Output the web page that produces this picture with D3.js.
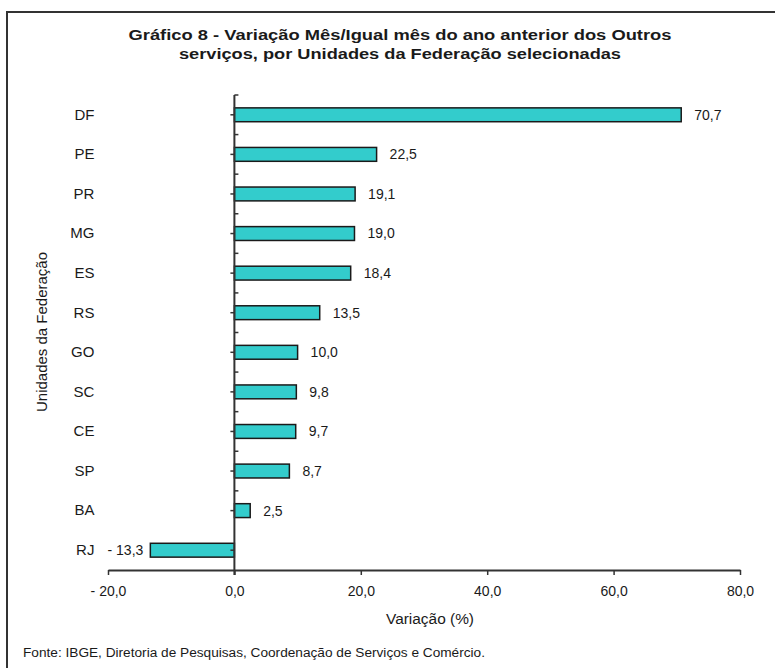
<!DOCTYPE html>
<html>
<head>
<meta charset="utf-8">
<script src="https://cdn.jsdelivr.net/npm/d3@7"></script>
<style>
  body { margin: 0; background: #fff; }
  svg text { font-family: "Liberation Sans", Arial, sans-serif; fill: #1a1a1a; }
</style>
</head>
<body>
<div id="chart"></div>
<script>
var ufs = ["DF", "PE", "PR", "MG", "ES", "RS", "GO", "SC", "CE", "SP", "BA", "RJ"];
var variacao = [70.7, 22.5, 19.1, 19.0, 18.4, 13.5, 10.0, 9.8, 9.7, 8.7, 2.5, -13.3];
var xTicks = [-20, 0, 20, 40, 60, 80];
var titleLines = ["Gráfico 8 - Variação Mês/Igual mês do ano anterior dos Outros",
                  "serviços, por Unidades da Federação selecionadas"];

var width = 775, height = 668;

function fmt(d) {
  var s = Math.abs(d).toFixed(1).replace(".", ",");
  return d < 0 ? "- " + s : s;
}

var svg = d3.select("#chart").append("svg")
    .attr("width", width)
    .attr("height", height);

// frame
svg.append("rect")
    .attr("x", 7).attr("y", 12)
    .attr("width", 800).attr("height", 700)
    .style("fill", "none")
    .style("stroke", "#333")
    .style("stroke-width", 2);

// title
svg.selectAll("text.title").data(titleLines).enter()
  .append("text")
    .attr("class", "title")
    .attr("x", 400)
    .attr("y", function(d, i) { return 40 + i * 19; })
    .attr("text-anchor", "middle")
    .attr("textLength", function(d, i) { return i == 0 ? 543 : 442; })
    .attr("lengthAdjust", "spacingAndGlyphs")
    .style("font-size", "14px")
    .style("font-weight", "bold")
    .text(function(d) { return d; });

var x = d3.scaleLinear().domain([-20, 80]).range([108, 740]);
var y = d3.scaleBand().domain(ufs).range([95, 570])
    .paddingInner(0.65).paddingOuter(0.325);

var data = ufs.map(function(u, i) { return {uf: u, v: variacao[i]}; });

// bars
svg.append("g").selectAll("rect").data(data).enter()
  .append("rect")
    .attr("x", function(d) { return x(Math.min(0, d.v)); })
    .attr("y", function(d) { return y(d.uf); })
    .attr("width", function(d) { return Math.abs(x(d.v) - x(0)); })
    .attr("height", y.bandwidth())
    .style("fill", "#33cccc")
    .style("stroke", "#1a1a1a")
    .style("stroke-width", 1.5);

// value labels
svg.append("g").selectAll("text").data(data).enter()
  .append("text")
    .attr("x", function(d) { return d.v < 0 ? x(d.v) - 7 : x(d.v) + 13; })
    .attr("y", function(d) { return y(d.uf) + y.bandwidth() / 2; })
    .attr("dy", "0.35em")
    .attr("text-anchor", function(d) { return d.v < 0 ? "end" : "start"; })
    .style("font-size", "14px")
    .text(function(d) { return fmt(d.v); });

// x axis
var gx = svg.append("g")
    .attr("transform", "translate(0,570)")
    .call(d3.axisBottom(x).tickValues(xTicks).tickSize(5).tickSizeOuter(0)
      .tickPadding(11).tickFormat(fmt));
gx.select(".domain").style("stroke", "#333").style("stroke-width", 2);
gx.selectAll(".tick line").style("stroke", "#333").style("stroke-width", 1.5);
gx.selectAll(".tick text").style("font-size", "14px").style("font-family", null);

// y axis
var gy = svg.append("g")
    .attr("transform", "translate(" + x(0) + ",0)")
    .call(d3.axisLeft(y).tickSize(4).tickPadding(136));
gy.select(".domain").remove();
gy.selectAll(".tick line").style("stroke", "#333").style("stroke-width", 1.5);
gy.selectAll(".tick text").style("font-size", "15px").style("font-family", null);

gy.append("line")
    .attr("y1", 95).attr("y2", 575)
    .style("stroke", "#333").style("stroke-width", 2);

// band boundary ticks
gy.selectAll("line.edge").data(ufs.slice(0, 11)).enter()
  .append("line")
    .attr("class", "edge")
    .attr("x1", 0).attr("x2", 4)
    .attr("y1", function(d, i) { return 95 + i * y.step(); })
    .attr("y2", function(d, i) { return 95 + i * y.step(); })
    .style("stroke", "#333").style("stroke-width", 1.5);

// axis titles
svg.append("text")
    .attr("x", 430).attr("y", 624)
    .attr("text-anchor", "middle")
    .attr("textLength", 88)
    .attr("lengthAdjust", "spacingAndGlyphs")
    .style("font-size", "14px")
    .text("Variação (%)");

svg.append("text")
    .attr("transform", "translate(47,332) rotate(-90)")
    .attr("text-anchor", "middle")
    .attr("textLength", 160)
    .attr("lengthAdjust", "spacingAndGlyphs")
    .style("font-size", "14px")
    .text("Unidades da Federação");

svg.append("text")
    .attr("x", 23).attr("y", 657)
    .attr("textLength", 462)
    .attr("lengthAdjust", "spacingAndGlyphs")
    .style("font-size", "12px")
    .text("Fonte: IBGE, Diretoria de Pesquisas, Coordenação de Serviços e Comércio.");
</script>
</body>
</html>
